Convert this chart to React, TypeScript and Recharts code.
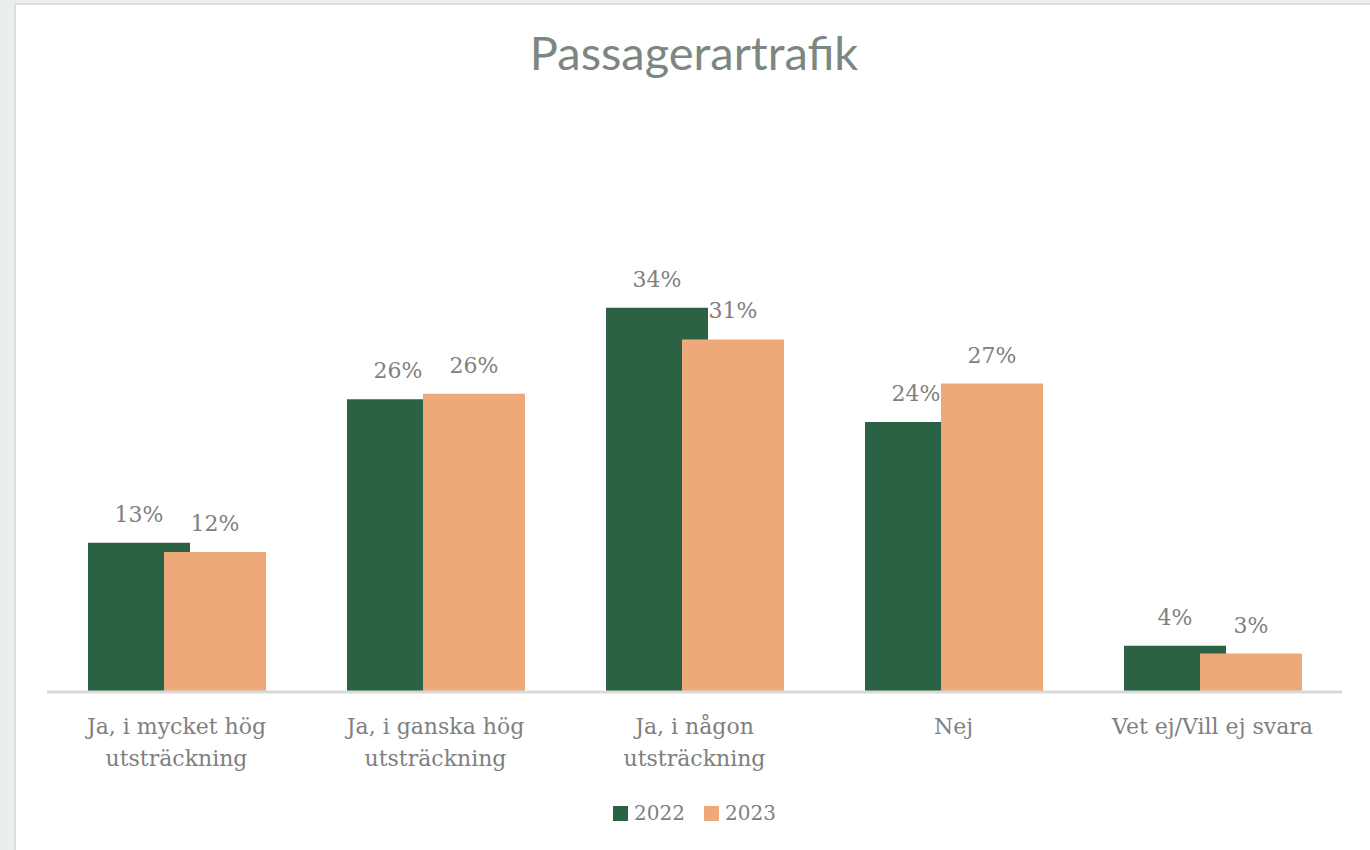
import { BarChart, Bar, XAxis, YAxis, Legend, LabelList } from "recharts";

const categories = [
  "Ja, i mycket hög\nutsträckning",
  "Ja, i ganska hög\nutsträckning",
  "Ja, i någon\nutsträckning",
  "Nej",
  "Vet ej/Vill ej svara",
];
const values2022 = [13.2, 25.9, 34, 23.9, 4.1];
const values2023 = [12.4, 26.4, 31.2, 27.3, 3.4];
const seriesNames = ["2022", "2023"];

const GREEN = "#2c6244";
const ORANGE = "#eda97a";
const TEXT = "#808080";
const SERIF = '"DejaVu Serif", serif';

const data = categories.map((name, i) => ({
  name,
  y2022: values2022[i],
  y2023: values2023[i],
}));

function CategoryTick(props: any) {
  const { x, y, payload } = props;
  const lines = String(payload.value).split("\n");
  return (
    <text x={x} y={y} textAnchor="middle" fill={TEXT} style={{ fontFamily: SERIF, fontSize: 22 }}>
      {lines.map((line, i) => (
        <tspan key={i} x={x} dy={i === 0 ? 42 : 32}>
          {line}
        </tspan>
      ))}
    </text>
  );
}

function LegendContent() {
  const colors = [GREEN, ORANGE];
  return (
    <div style={{ display: "flex", justifyContent: "center", alignItems: "center", height: 30 }}>
      {seriesNames.map((s, i) => (
        <div key={s} style={{ display: "flex", alignItems: "center", marginRight: i === 0 ? 19 : 0 }}>
          <span style={{ width: 15, height: 15, background: colors[i], display: "inline-block", marginRight: 6 }} />
          <span style={{ fontFamily: SERIF, fontSize: 20, color: TEXT }}>{s}</span>
        </div>
      ))}
    </div>
  );
}

const labelStyle = { fontFamily: SERIF, fontSize: 22 };

export default function App() {
  return (
    <div style={{ position: "absolute", left: 0, top: 0, width: 1370, height: 850, background: "#e9efec", overflow: "hidden" }}>
      <div
        style={{
          position: "absolute",
          left: 14,
          top: 3,
          width: 1370,
          height: 860,
          background: "#fff",
          border: "2px solid #dedede",
          boxSizing: "border-box",
        }}
      />
      <div
        style={{
          position: "absolute",
          left: 0,
          top: 29,
          width: 1388,
          textAlign: "center",
          fontFamily: "Lato, Open Sans, sans-serif",
          fontSize: 47,
          lineHeight: "46px",
          color: "#7d8782",
        }}
      >
        Passagerartrafik
      </div>
      <div style={{ position: "absolute", left: 0, top: 0 }}>
        <BarChart
          width={1370}
          height={850}
          data={data}
          margin={{ top: 240, right: 28, left: 47, bottom: 38 }}
          barSize={102}
          barGap={-26}
        >
          <XAxis
            dataKey="name"
            height={90}
            interval={0}
            tickLine={false}
            tickSize={0}
            tickMargin={0}
            axisLine={{ stroke: "#d9d9d9", strokeWidth: 3 }}
            tick={<CategoryTick />}
          />
          <YAxis hide domain={[0, 40]} />
          <Legend verticalAlign="bottom" height={30} content={<LegendContent />} wrapperStyle={{ top: 798 }} />
          <Bar dataKey="y2022" name={seriesNames[0]} fill={GREEN} isAnimationActive={false}>
            <LabelList
              dataKey="y2022"
              position="top"
              offset={21}
              fill={TEXT}
              style={labelStyle}
              formatter={(v: any) => `${Math.round(Number(v))}%`}
            />
          </Bar>
          <Bar dataKey="y2023" name={seriesNames[1]} fill={ORANGE} isAnimationActive={false}>
            <LabelList
              dataKey="y2023"
              position="top"
              offset={21}
              fill={TEXT}
              style={labelStyle}
              formatter={(v: any) => `${Math.round(Number(v))}%`}
            />
          </Bar>
        </BarChart>
      </div>
    </div>
  );
}
